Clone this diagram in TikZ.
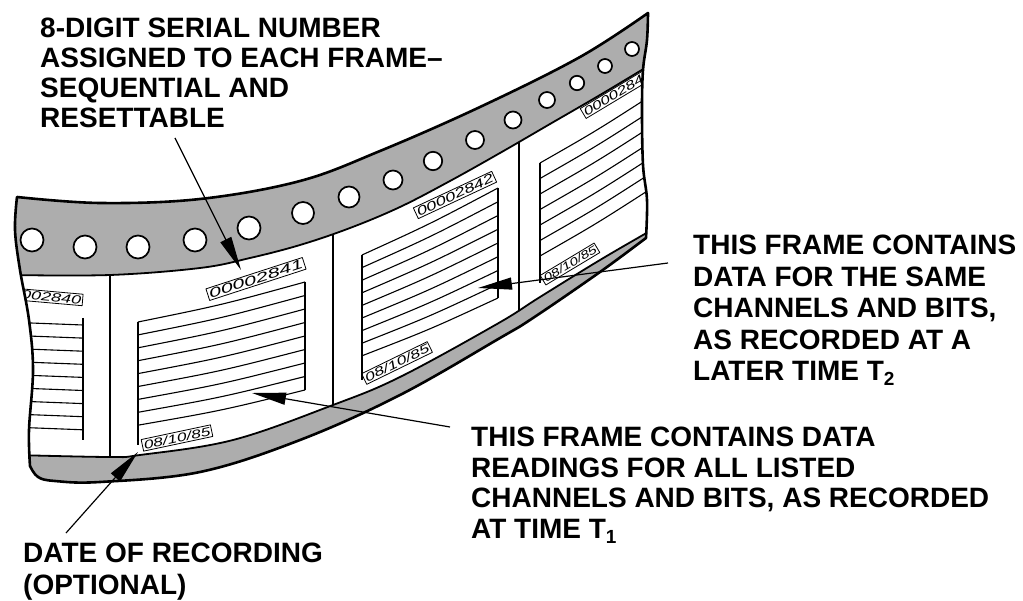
\documentclass[tikz,border=0pt]{standalone}
\usepackage{fontspec}
\setmainfont{Liberation Sans}
\usepackage{graphicx}
\usetikzlibrary{arrows.meta}
\definecolor{stip}{gray}{0.68}
\newcommand\hwtext[3]{\scalebox{#2}[1]{\fontsize{#1}{#1}\selectfont\itshape #3}}
\newcommand\subdig[1]{\raisebox{-5pt}{\fontsize{19}{19}\selectfont #1}}
\def\tapeoutline{plot[smooth,tension=0.6] coordinates {(17,197) (100,203) (200,199) (300,181) (380,151) (480,107) (580,57) (648,13)}
 -- plot[smooth,tension=0.6] coordinates {(648,13) (647,40) (643,70) (642,110) (643,165) (647,200) (646,238)}
 -- plot[smooth,tension=0.6] coordinates {(646,238) (600,272) (533,318) (500,338) (400,395) (300,440) (200,472) (100,482) (55,481) (38,477) (30,466)}
 -- plot[smooth,tension=0.6] coordinates {(30,466) (29,430) (33,370) (29,320) (20,270) (15,230) (17,197)} -- cycle}
\begin{document}
\begin{tikzpicture}[x=1pt,y=-1pt,line join=round,
  outline/.style={line width=2.6pt},
  stripedge/.style={line width=1.8pt},
  sepline/.style={line width=1.5pt},
  dl/.style={line width=1.1pt},
  hole/.style={fill=white,draw=black,line width=1.7pt},
  lab/.style={draw,line width=0.8pt,inner sep=1.5pt},
  callout/.style={align=left,inner sep=0pt,anchor=north west},
  arr/.style={line width=1.2pt,-{Triangle[length=34pt,width=12pt]}}]

\fill[white] (0,0) rectangle (1023,601);
\useasboundingbox (0,0) rectangle (1023,601);

\begin{scope}
\clip \tapeoutline;
\fill[white] (-10,-10) rectangle (700,520);
% top perforated strip
\fill[stip] (-20,275) -- plot[smooth,tension=0.6] coordinates {(18,275) (110,275) (200,268) (250,258) (300,245) (350,228) (400,207) (450,181) (500,153) (550,124) (600,95) (650,65)} -- (700,60) -- (700,-20) -- (-20,-20) -- cycle;
\draw[stripedge] plot[smooth,tension=0.6] coordinates {(10,275) (110,275) (200,268) (250,258) (300,245) (350,228) (400,207) (450,181) (500,153) (550,124) (600,95) (650,65)};
% bottom strip
\fill[stip] (-20,455) -- plot[smooth,tension=0.6] coordinates {(25,455) (110,457) (140,455) (233,440) (333,405) (400,377) (497,324) (540,297) (600,260) (650,231)} -- (700,231) -- (700,620) -- (-20,620) -- cycle;
\draw[stripedge] plot[smooth,tension=0.6] coordinates {(15,455) (110,457) (140,455) (233,440) (333,405) (400,377) (497,324) (540,297) (600,260) (650,231)};
% frame separators
\draw[sepline] (110,275) -- (110,457);
\draw[sepline] (333,234) -- (333,405);
\draw[sepline] (519,142) -- (519,310);
% partial frame at left
\foreach \i in {0,...,8}{
  \pgfmathsetmacro\ya{322+13.1*\i}
  \pgfmathsetmacro\yb{325+13.1*\i}
  \draw[dl] (5,\ya) -- (83,\yb);
}
\draw[dl] (83,318) -- (83,440);
\node[lab,rotate=-5,anchor=east] (f0) at (83,300) {\hwtext{12}{1.5}{00002840}};
% frame 1
\foreach \i in {0,...,8}{
  \pgfmathsetmacro\ya{322+12.9*\i}
  \pgfmathsetmacro\yb{282+13.5*\i}
  \pgfmathsetmacro\ym{(\ya+\yb)/2+3}
  \draw[dl] (138,\ya) .. controls (221.5,\ym) .. (305,\yb);
}
\draw[dl] (138,322) -- (138,445);
\draw[dl] (305,282) -- (305,390);
\node[lab,rotate=18] (f1) at (256,279) {\hwtext{13}{1.7}{00002841}};
\node[lab,rotate=12] (d1) at (177,438) {\hwtext{12}{1.45}{08/10/85}};
% frame 2
\foreach \i in {0,...,8}{
  \pgfmathsetmacro\ya{255+12.6*\i}
  \pgfmathsetmacro\yb{188+13.75*\i}
  \pgfmathsetmacro\ym{(\ya+\yb)/2+2.5}
  \draw[dl] (362,\ya) .. controls (430,\ym) .. (498,\yb);
}
\draw[dl] (362,255) -- (362,380);
\draw[dl] (498,188) -- (498,298);
\node[lab,rotate=25] (f2) at (455,195) {\hwtext{12.5}{1.5}{00002842}};
\node[lab,rotate=26] (d2) at (397,363) {\hwtext{12}{1.5}{08/10/85}};
% frame 3
\foreach \i in {0,...,6}{
  \pgfmathsetmacro\ya{163+15.5*\i}
  \pgfmathsetmacro\yb{95+15.5*\i}
  \pgfmathsetmacro\ym{(\ya+\yb)/2+2}
  \draw[dl] (540,\ya) .. controls (596,\ym) .. (652,\yb);
}
\draw[dl] (540,163) -- (540,283);
\node[lab,rotate=31,anchor=south west] (f3) at (586,119) {\hwtext{12}{1.45}{00002843}};
\node[lab,rotate=31] (d3) at (570,264) {\hwtext{11}{1.4}{08/10/85}};
\end{scope}

\draw[outline] \tapeoutline;

% sprocket holes
\foreach \hx/\hy/\hr in {32/240/11.5, 85/247/11.5, 138/247/11.5, 195/240/11.5, 249/228/11.5, 303/213/11, 349/197/10.5, 393/180/9.5, 433/161/9.2, 475/140/9, 513/120/8.5, 547/100/8, 577/83/7.2, 605/66/7, 632/49/7}{
  \draw[hole] (\hx,\hy) circle[radius=\hr];
}

% callout texts
\node[callout,font=\fontsize{28}{30}\selectfont\bfseries] (sn) at (40,18) {8-DIGIT SERIAL NUMBER\\ASSIGNED TO EACH FRAME–\\SEQUENTIAL AND\\RESETTABLE};
\node[callout,font=\fontsize{28}{31.5}\selectfont\bfseries] (tt) at (693,235) {THIS FRAME CONTAINS\\DATA FOR THE SAME\\CHANNELS AND BITS,\\AS RECORDED AT A\\LATER TIME T\subdig{2}};
\node[callout,font=\fontsize{28}{30.5}\selectfont\bfseries] (to) at (471,427) {THIS FRAME CONTAINS DATA\\READINGS FOR ALL LISTED\\CHANNELS AND BITS, AS RECORDED\\AT TIME T\subdig{1}};
\node[callout,font=\fontsize{28}{32}\selectfont\bfseries] (dr) at (23,543) {DATE OF RECORDING\\(OPTIONAL)};

% arrows
\coordinate (snS) at (175,138); \coordinate (snE) at (241,270);
\coordinate (drS) at (66,533);  \coordinate (drE) at (138,452);
\coordinate (toS) at (450,427); \coordinate (toE) at (252,393);
\coordinate (ttS) at (668,263); \coordinate (ttE) at (478,288);
\draw[arr] (snS) -- (snE);
\draw[arr] (drS) -- (drE);
\draw[arr] (toS) -- (toE);
\draw[arr] (ttS) -- (ttE);
\end{tikzpicture}
\end{document}
